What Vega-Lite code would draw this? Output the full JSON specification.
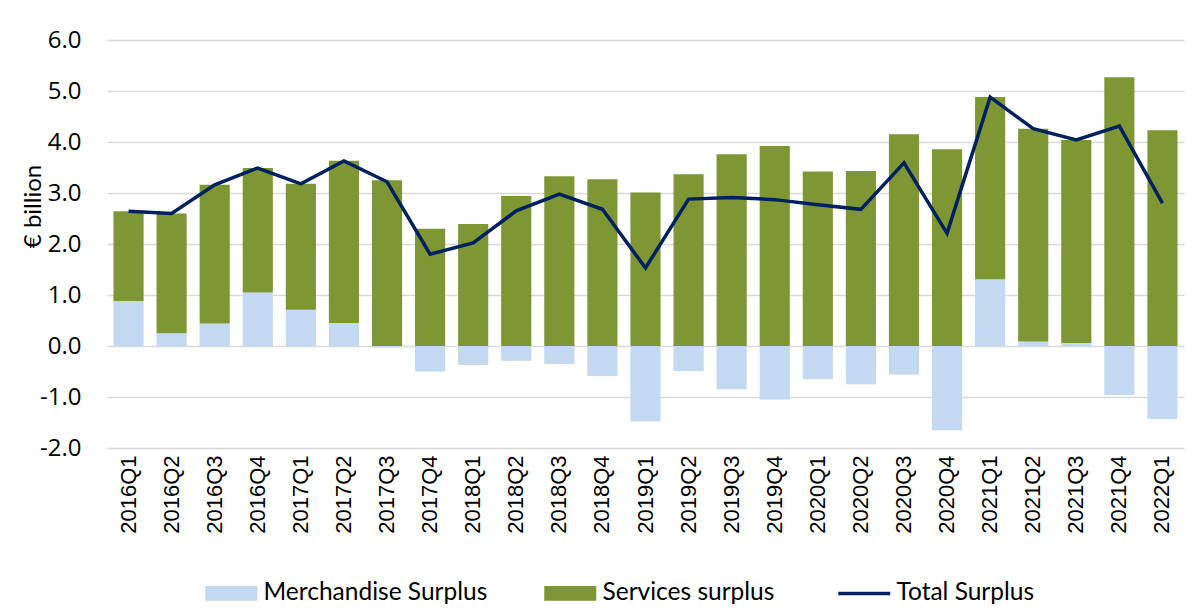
{
  "$schema": "https://vega.github.io/schema/vega-lite/v6.json",
  "width": 1077,
  "height": 408,
  "autosize": "none",
  "padding": {"left": 107, "top": 40, "right": 16, "bottom": 163},
  "background": "white",
  "config": {
    "view": {"stroke": null},
    "axis": {"labelColor": "#000000", "titleColor": "#000000", "labelFont": "Open Sans", "titleFont": "Lato"},
    "legend": {"labelFont": "Lato", "labelColor": "#000000"}
  },
  "data": {
    "values": [
      {"quarter": "2016Q1", "Merchandise Surplus": 0.88, "Services surplus": 1.76, "Total Surplus": 2.64},
      {"quarter": "2016Q2", "Merchandise Surplus": 0.25, "Services surplus": 2.35, "Total Surplus": 2.60},
      {"quarter": "2016Q3", "Merchandise Surplus": 0.44, "Services surplus": 2.72, "Total Surplus": 3.16},
      {"quarter": "2016Q4", "Merchandise Surplus": 1.05, "Services surplus": 2.44, "Total Surplus": 3.49},
      {"quarter": "2017Q1", "Merchandise Surplus": 0.71, "Services surplus": 2.47, "Total Surplus": 3.18},
      {"quarter": "2017Q2", "Merchandise Surplus": 0.45, "Services surplus": 3.18, "Total Surplus": 3.63},
      {"quarter": "2017Q3", "Merchandise Surplus": -0.03, "Services surplus": 3.25, "Total Surplus": 3.22},
      {"quarter": "2017Q4", "Merchandise Surplus": -0.50, "Services surplus": 2.30, "Total Surplus": 1.80},
      {"quarter": "2018Q1", "Merchandise Surplus": -0.37, "Services surplus": 2.39, "Total Surplus": 2.02},
      {"quarter": "2018Q2", "Merchandise Surplus": -0.29, "Services surplus": 2.94, "Total Surplus": 2.65},
      {"quarter": "2018Q3", "Merchandise Surplus": -0.35, "Services surplus": 3.33, "Total Surplus": 2.98},
      {"quarter": "2018Q4", "Merchandise Surplus": -0.59, "Services surplus": 3.27, "Total Surplus": 2.68},
      {"quarter": "2019Q1", "Merchandise Surplus": -1.48, "Services surplus": 3.01, "Total Surplus": 1.53},
      {"quarter": "2019Q2", "Merchandise Surplus": -0.49, "Services surplus": 3.37, "Total Surplus": 2.88},
      {"quarter": "2019Q3", "Merchandise Surplus": -0.85, "Services surplus": 3.76, "Total Surplus": 2.91},
      {"quarter": "2019Q4", "Merchandise Surplus": -1.05, "Services surplus": 3.92, "Total Surplus": 2.87},
      {"quarter": "2020Q1", "Merchandise Surplus": -0.65, "Services surplus": 3.42, "Total Surplus": 2.77},
      {"quarter": "2020Q2", "Merchandise Surplus": -0.75, "Services surplus": 3.43, "Total Surplus": 2.68},
      {"quarter": "2020Q3", "Merchandise Surplus": -0.56, "Services surplus": 4.15, "Total Surplus": 3.59},
      {"quarter": "2020Q4", "Merchandise Surplus": -1.65, "Services surplus": 3.86, "Total Surplus": 2.21},
      {"quarter": "2021Q1", "Merchandise Surplus": 1.31, "Services surplus": 3.57, "Total Surplus": 4.88},
      {"quarter": "2021Q2", "Merchandise Surplus": 0.09, "Services surplus": 4.17, "Total Surplus": 4.26},
      {"quarter": "2021Q3", "Merchandise Surplus": 0.06, "Services surplus": 3.98, "Total Surplus": 4.04},
      {"quarter": "2021Q4", "Merchandise Surplus": -0.96, "Services surplus": 5.27, "Total Surplus": 4.31},
      {"quarter": "2022Q1", "Merchandise Surplus": -1.43, "Services surplus": 4.23, "Total Surplus": 2.80}
    ]
  },
  "encoding": {
    "x": {
      "field": "quarter",
      "type": "nominal",
      "sort": null,
      "scale": {"paddingInner": 0.3, "paddingOuter": 0.15},
      "axis": {
        "title": null,
        "labelAngle": 270,
        "labelAlign": "right",
        "labelBaseline": "middle",
        "labelFont": "Liberation Sans",
        "labelFontSize": 22,
        "labelPadding": 7,
        "ticks": false,
        "domain": false,
        "grid": false
      }
    }
  },
  "layer": [
    {
      "transform": [{"fold": ["Merchandise Surplus", "Services surplus"], "as": ["series", "value"]}],
      "mark": {"type": "bar"},
      "encoding": {
        "y": {
          "field": "value",
          "type": "quantitative",
          "stack": "zero",
          "scale": {"domain": [-2, 6], "nice": false},
          "axis": {
            "title": "€ billion",
            "titleFontSize": 24,
            "titleFontWeight": "normal",
            "titleX": -74,
            "titleY": 166,
            "titleAngle": 270,
            "titleBaseline": "middle",
            "titleAlign": "center",
            "values": [-2, -1, 0, 1, 2, 3, 4, 5, 6],
            "labelExpr": "datum.value < 0 ? '-' + format(-datum.value, '.1f') : format(datum.value, '.1f')",
            "labelFontSize": 24,
            "labelPadding": 26,
            "ticks": false,
            "domain": false,
            "grid": true,
            "gridColor": "#D9D9D9",
            "gridWidth": 1.5
          }
        },
        "color": {
          "field": "series",
          "type": "nominal",
          "scale": {
            "domain": ["Merchandise Surplus", "Services surplus", "Total Surplus"],
            "range": ["#C3D8F1", "#7E9734", "#002060"]
          },
          "legend": {
            "title": null,
            "orient": "none",
            "direction": "horizontal",
            "legendX": 112,
            "legendY": 541,
            "padding": 0,
            "labelFontSize": 24.5,
            "labelOffset": 20,
            "columnPadding": 56,
            "symbolSize": 2704,
            "symbolStrokeWidth": 0,
            "labelLimit": 400,
            "encode": {
              "symbols": {
                "update": {
                  "shape": {"signal": "datum.value === 'Total Surplus' ? 'M-1,0H1' : 'M-1,-0.28H1V0.28H-1Z'"},
                  "fill": {"signal": "datum.value === 'Total Surplus' ? 'transparent' : scale('color', datum.value)"},
                  "stroke": {"signal": "scale('color', datum.value)"},
                  "strokeWidth": {"signal": "datum.value === 'Total Surplus' ? 3.5 : 0"},
                  "opacity": {"value": 1}
                }
              }
            }
          }
        },
        "order": {"field": "series", "sort": "ascending"}
      }
    },
    {
      "mark": {"type": "line", "strokeWidth": 3.5, "strokeJoin": "miter"},
      "encoding": {
        "y": {"field": "Total Surplus", "type": "quantitative"},
        "color": {"datum": "Total Surplus"}
      }
    }
  ]
}
